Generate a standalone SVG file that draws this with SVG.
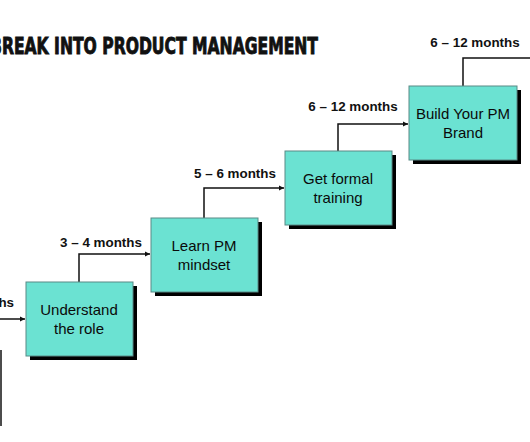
<svg xmlns="http://www.w3.org/2000/svg" width="530" height="442" viewBox="0 0 530 442">
<defs>
<style>
.box{fill:#6be2d2;stroke:#5a8a86;stroke-width:1}
.shadow{fill:#000}
.bt{font-family:"Liberation Sans",Arial,sans-serif;font-size:15px;fill:#0a0a0a;text-anchor:middle}
.lbl{font-family:"Liberation Sans",Arial,sans-serif;font-size:13.4px;font-weight:bold;fill:#111;text-anchor:middle}
.ln{fill:none;stroke:#111;stroke-width:1.5}
.title{font-family:"Liberation Sans Narrow","DejaVu Sans Condensed","Liberation Sans",sans-serif;font-size:23px;font-weight:bold;fill:#111;stroke:#111;stroke-width:0.9}
</style>
<marker id="ah" markerWidth="6" markerHeight="6" refX="5" refY="3" orient="auto" markerUnits="userSpaceOnUse">
<path d="M0,0.5 L5,3 L0,5.5 Z" fill="#111"/>
</marker>
</defs>
<rect width="530" height="442" fill="#fff"/>
<text class="title" x="-10" y="54" textLength="328" lengthAdjust="spacingAndGlyphs">BREAK INTO PRODUCT MANAGEMENT</text>
<g id="connectors">
<path class="ln" d="M0,319 L25,319" marker-end="url(#ah)"/>
<path class="ln" d="M1,350 L1,426"/>
<path class="ln" d="M79,282 L79,254 L150,254" marker-end="url(#ah)"/>
<path class="ln" d="M204,218 L204,188 L284,188" marker-end="url(#ah)"/>
<path class="ln" d="M338,151 L338,124 L408,124" marker-end="url(#ah)"/>
<path class="ln" d="M463,86 L463,58 L531,58"/>
<text class="lbl" x="4" y="307">ths</text>
<text class="lbl" x="101" y="247">3 – 4 months</text>
<text class="lbl" x="235" y="178">5 – 6 months</text>
<text class="lbl" x="353" y="111">6 – 12 months</text>
<text class="lbl" x="475" y="47">6 – 12 months</text>
</g>
<g id="node1">
<rect class="shadow" x="30" y="286" width="107" height="74"/>
<rect class="box" x="26" y="282" width="107" height="74"/>
<text class="bt" x="79" y="315">Understand</text>
<text class="bt" x="79" y="334">the role</text>
</g>
<g id="node2">
<rect class="shadow" x="155" y="222" width="107" height="74"/>
<rect class="box" x="151" y="218" width="107" height="74"/>
<text class="bt" x="204" y="251">Learn PM</text>
<text class="bt" x="204" y="270">mindset</text>
</g>
<g id="node3">
<rect class="shadow" x="289" y="155" width="107" height="74"/>
<rect class="box" x="285" y="151" width="107" height="74"/>
<text class="bt" x="338" y="184">Get formal</text>
<text class="bt" x="338" y="203">training</text>
</g>
<g id="node4">
<rect class="shadow" x="413" y="90" width="108" height="74"/>
<rect class="box" x="409" y="86" width="108" height="74"/>
<text class="bt" x="463" y="119">Build Your PM</text>
<text class="bt" x="463" y="138">Brand</text>
</g>
</svg>
